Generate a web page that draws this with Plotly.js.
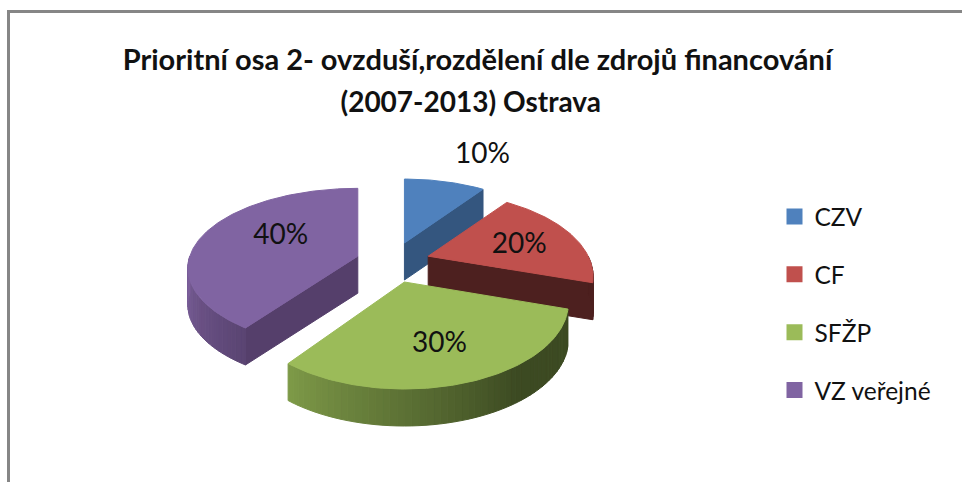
<!DOCTYPE html>
<html><head><meta charset="utf-8">
<script src="https://cdn.plot.ly/plotly-3.0.0.min.js"></script>
<style>html,body{margin:0;padding:0;background:#fff}#c{width:962px;height:482px}</style>
</head><body><div id="c"></div>
<script>
// --- data ---
const categories = ['CZV', 'CF', 'SFŽP', 'VZ veřejné'];
const values = [10, 20, 30, 40];
const titleLine1 = 'Prioritní osa 2- ovzduší,rozdělení dle zdrojů financování';
const titleLine2 = '(2007-2013) Ostrava';

// --- styles ---
const topColors  = ['#4F81BD', '#C0504D', '#9BBB59', '#8064A2'];
const edgeColors = ['#34567F', '#4D201F', '#4A5A2A', '#553F6B'];
const wallDark   = ['#34567F', '#4D201F', '#3C4A22', '#5A4472'];
const wallLight  = ['#34567F', '#4D201F', '#7E9A48', '#7D619C'];
const labelShift = [[78, -87], [91, -10], [35, 63], [-77, -19]];

// --- 3D pie projection (pixel space of the full-page axes) ---
const cx = 393, cy = 262.5, depth = 37;
const explodeX = 37, explodeY = 20.5;
const shapes3d = [
  { Rx: 160, Ry: 79.5, k: 0.243 },
  { Rx: 160, Ry: 79.5, k: 0.243 },
  { Rx: 159, Ry: 81,   k: 0.243 },
  { Rx: 168, Ry: 78,   k: 0.15 }
];
const rad = d => d * Math.PI / 180;
function proj(deg, g) {
  const u = Math.sin(rad(deg)), v = Math.cos(rad(deg)), s = 1 / (1 + g.k * v);
  return [g.Rx * u * s, -g.Ry * v * s];
}
function hex(c) { return [1, 3, 5].map(i => parseInt(c.substr(i, 2), 16)); }
function mix(a, b, t) {
  const A = hex(a), B = hex(b);
  return 'rgb(' + A.map((x, i) => Math.round(x + (B[i] - x) * t)).join(',') + ')';
}
function poly(xs, ys, color) {
  return { type: 'scatter', mode: 'lines', x: xs, y: ys, fill: 'toself', fillcolor: color,
    line: { color: color, width: 1 }, showlegend: false, hoverinfo: 'skip' };
}

const total = values.reduce((a, b) => a + b, 0);
let acc = 0;
const slices = values.map((v, i) => {
  const a0 = acc / total * 360; acc += v;
  const a1 = acc / total * 360, mid = (a0 + a1) / 2;
  return { i, a0, a1,
    ax: cx + explodeX * Math.sin(rad(mid)),
    ay: cy - explodeY * Math.cos(rad(mid)) };
});

function sliceTraces(sl) {
  const out = [], { i, a0, a1, ax, ay } = sl, g = shapes3d[i];
  // radial wall facing the viewer
  const radialAngle = a1 <= 180 ? a1 : (a0 >= 180 ? a0 : null);
  if (radialAngle !== null && i !== 2) {
    const p = proj(radialAngle, g);
    out.push(poly([ax, ax + p[0], ax + p[0], ax, ax],
                  [ay, ay + p[1], ay + p[1] + depth, ay + depth, ay], edgeColors[i]));
  }
  // outer curved wall, shaded strip by strip
  const lo = Math.max(a0, 90), hi = Math.min(a1, 270);
  if (hi > lo) {
    const n = Math.ceil((hi - lo) / 2), step = (hi - lo) / n;
    for (let k = 0; k < n; k++) {
      const t0 = lo + k * step, t1 = t0 + step;
      const p0 = proj(t0, g), p1 = proj(t1, g);
      let t = (k + 0.5) / n;
      if (i === 2) t = Math.max(0, (t - 0.35) / 0.65);
      out.push(poly(
        [ax + p0[0], ax + p1[0], ax + p1[0], ax + p0[0], ax + p0[0]],
        [ay + p0[1], ay + p1[1], ay + p1[1] + depth, ay + p0[1] + depth, ay + p0[1]],
        mix(wallDark[i], wallLight[i], t)));
    }
  }
  // top face
  const xs = [ax], ys = [ay];
  for (let d = a0; d <= a1 + 0.001; d += 1) {
    const p = proj(d, g);
    xs.push(ax + p[0]); ys.push(ay + p[1]);
  }
  xs.push(ax); ys.push(ay);
  out.push(poly(xs, ys, topColors[i]));
  return out;
}

const drawOrder = [0, 3, 1, 2];
let traces = [];
drawOrder.forEach(i => { traces = traces.concat(sliceTraces(slices[i])); });

// percentage labels
traces.push({
  type: 'scatter', mode: 'text',
  x: slices.map((s, i) => s.ax + labelShift[i][0]),
  y: slices.map((s, i) => s.ay + labelShift[i][1]),
  text: values.map(v => Math.round(v / total * 100) + '%'),
  textposition: 'middle center',
  textfont: { family: 'Lato, "Open Sans", sans-serif', size: 28, color: '#111' },
  showlegend: false, hoverinfo: 'skip'
});

// legend entries
categories.forEach((c, i) => traces.push({
  type: 'scatter', mode: 'markers', name: c, legendgroup: c,
  x: [-100], y: [-100],
  marker: { symbol: 'square', size: 18, color: topColors[i] }, hoverinfo: 'skip'
}));

const layout = {
  width: 962, height: 482, paper_bgcolor: '#fff', plot_bgcolor: '#fff',
  margin: { l: 0, r: 0, t: 0, b: 0 },
  xaxis: { range: [0, 962], visible: false, fixedrange: true },
  yaxis: { range: [482, 0], visible: false, fixedrange: true },
  title: {
    text: '<span style="font-size:29px;font-weight:bold">' + titleLine1 + '</span><br>' +
          '<span style="font-size:28px;font-weight:bold">' + titleLine2 + '&nbsp;&nbsp;</span>',
    font: { family: 'Lato, "Open Sans", sans-serif', size: 32, color: '#111' },
    x: 477.5 / 962, xanchor: 'center', y: 1 - 70 / 482, yanchor: 'top'
  },
  legend: {
    x: 774.5 / 962, xanchor: 'left', y: 1 - 194 / 482, yanchor: 'top',
    font: { family: 'Lato, "Open Sans", sans-serif', size: 24.5, color: '#111' },
    tracegroupgap: 23, itemsizing: 'trace', bgcolor: 'rgba(0,0,0,0)'
  },
  shapes: [
    { type: 'line', x0: 8.5, x1: 8.5, y0: 10, y1: 482, line: { color: '#868686', width: 3 } },
    { type: 'line', x0: 7, x1: 962, y0: 11.5, y1: 11.5, line: { color: '#868686', width: 3 } }
  ]
};
Plotly.newPlot('c', traces, layout, { displayModeBar: false, staticPlot: true });
</script></body></html>
